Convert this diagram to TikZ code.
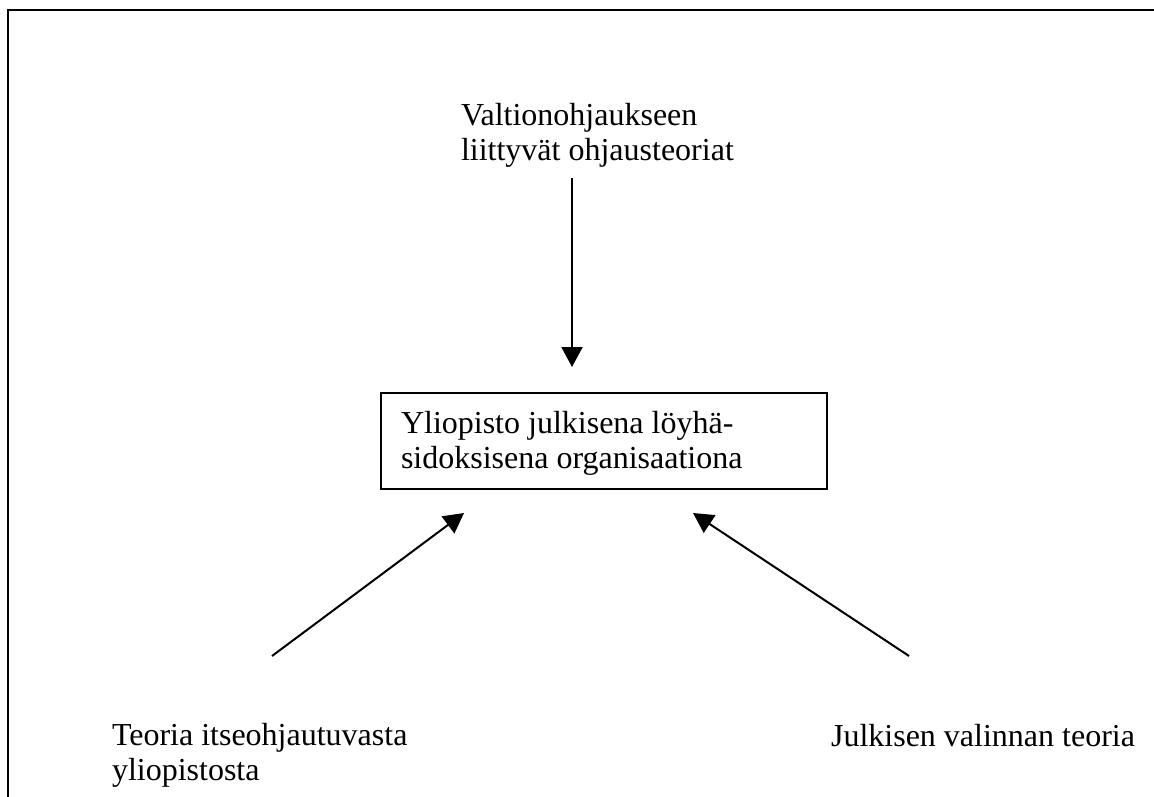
\documentclass[tikz,border=0pt]{standalone}
\usepackage{fontspec}
\setmainfont{Liberation Serif}
\usetikzlibrary{arrows.meta}
\begin{document}
\begin{tikzpicture}[x=1pt,y=-1pt,
  lbl/.style={inner sep=0pt,outer sep=0pt,align=left,font=\fontsize{32}{35}\selectfont},
  conn/.style={line width=2pt,-{Triangle[length=20pt,width=21pt]}},
  frame/.style={line width=2pt}]
\useasboundingbox (0,0) rectangle (1154,796);
\draw[frame] (8,820) -- (8,10) -- (1180,10);
% box
\node[draw,line width=1.8pt,minimum width=446pt,minimum height=96pt,inner sep=0pt,anchor=north west] (box) at (380,392) {};
\node[lbl,anchor=base west] (boxtxt) at (401,468) {Yliopisto julkisena löyhä-\\sidoksisena organisaationa};
% labels
\node[lbl,anchor=base west] (top) at (461,160) {Valtionohjaukseen\\liittyvät ohjausteoriat};
\node[lbl,anchor=base west] (left) at (112,780) {Teoria itseohjautuvasta\\yliopistosta};
\node[lbl,anchor=base east] (right) at (1135,746) {Julkisen valinnan teoria};
% connector ends
\coordinate (topS) at (572,178);
\coordinate (topE) at (572,367);
\coordinate (leftS) at (272,656);
\coordinate (leftE) at (464,513);
\coordinate (rightS) at (909,656);
\coordinate (rightE) at (693,513);
\draw[conn] (topS) -- (topE);
\draw[conn] (leftS) -- (leftE);
\draw[conn] (rightS) -- (rightE);
\end{tikzpicture}
\end{document}
